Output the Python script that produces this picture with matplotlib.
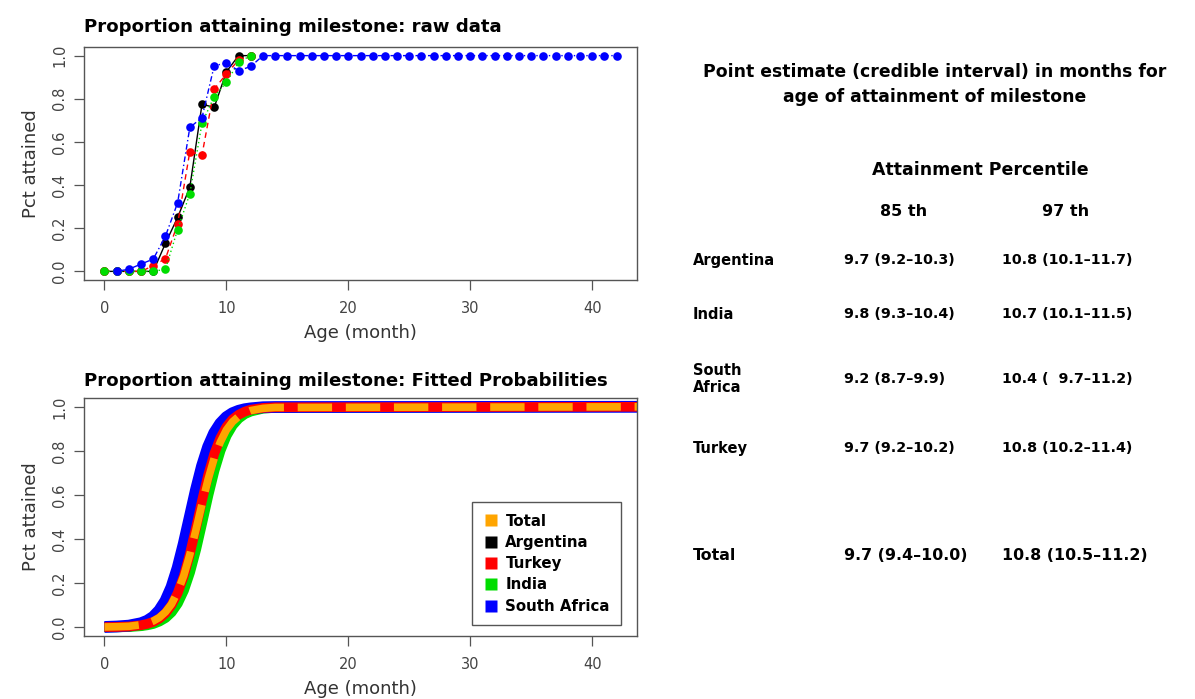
import matplotlib
matplotlib.use("Agg")
import matplotlib.pyplot as plt
from matplotlib.lines import Line2D

plt.rcParams['font.family'] = ['DejaVu Sans']

# ---------------- data ----------------
countries = ["Argentina", "Turkey", "India", "South Africa"]
colors = {"Total": "#FFA500", "Argentina": "#000000", "Turkey": "#FF0000",
          "India": "#00DD00", "South Africa": "#0000FF"}

# raw proportions (top panel)
arg_age = [0, 1, 2, 3, 4, 5, 6, 7, 8, 9, 10, 11, 12]
arg_pct = [0, 0, 0, 0, 0, 0.13, 0.25, 0.39, 0.775, 0.76, 0.925, 1.0, 1.0]
tur_age = [0, 1, 2, 3, 4, 5, 6, 7, 8, 9, 10, 11, 12]
tur_pct = [0, 0, 0, 0, 0.026, 0.059, 0.22, 0.555, 0.54, 0.845, 0.915, 0.98, 1.0]
ind_age = [0, 1, 2, 3, 4, 5, 6, 7, 8, 9, 10, 11, 12]
ind_pct = [0, 0, 0, 0, 0, 0.01, 0.194, 0.36, 0.687, 0.81, 0.876, 0.97, 1.0]
saf_age = list(range(1, 43))
saf_pct = [0, 0.01, 0.034, 0.057, 0.163, 0.318, 0.667, 0.713, 0.953, 0.966,
           0.93, 0.95] + [1.0] * 30

# fitted probabilities (bottom panel)
fit_age = [0, 1, 2, 3, 3.5, 4, 4.5, 5, 5.5, 6, 6.5, 7, 7.5, 8, 8.5, 9, 9.5,
           10, 10.5, 11, 11.5, 12, 13, 14, 44]
fit_total = [0.001, 0.002, 0.004, 0.011, 0.017, 0.028, 0.044, 0.069, 0.105,
             0.160, 0.233, 0.329, 0.441, 0.559, 0.671, 0.767, 0.840, 0.895,
             0.932, 0.956, 0.972, 0.983, 0.993, 0.997, 1.0]
fit_arg = [0.0004, 0.001, 0.003, 0.007, 0.012, 0.020, 0.032, 0.052, 0.083,
           0.130, 0.198, 0.289, 0.401, 0.525, 0.646, 0.750, 0.832, 0.891,
           0.931, 0.957, 0.973, 0.984, 0.994, 0.998, 1.0]
fit_tur = [0.0005, 0.001, 0.003, 0.009, 0.015, 0.024, 0.039, 0.063, 0.100,
           0.154, 0.231, 0.332, 0.450, 0.574, 0.690, 0.786, 0.858, 0.909,
           0.943, 0.964, 0.978, 0.987, 0.995, 0.998, 1.0]
fit_ind = [0.0003, 0.001, 0.002, 0.006, 0.010, 0.016, 0.027, 0.043, 0.069,
           0.109, 0.168, 0.250, 0.354, 0.475, 0.599, 0.711, 0.802, 0.870,
           0.917, 0.948, 0.968, 0.980, 0.993, 0.997, 1.0]
fit_saf = [0.001, 0.003, 0.007, 0.018, 0.029, 0.047, 0.076, 0.119, 0.182,
           0.269, 0.378, 0.500, 0.622, 0.731, 0.818, 0.881, 0.924, 0.953,
           0.971, 0.982, 0.989, 0.993, 0.998, 0.999, 1.0]

# table
table_rows = ["Argentina", "India", "South\nAfrica", "Turkey", "Total"]
p85 = ["9.7 (9.2\u201310.3)", "9.8 (9.3\u201310.4)", "9.2 (8.7\u20139.9)",
       "9.7 (9.2\u201310.2)", "9.7 (9.4\u201310.0)"]
p97 = ["10.8 (10.1\u201311.7)", "10.7 (10.1\u201311.5)", "10.4 (  9.7\u201311.2)",
       "10.8 (10.2\u201311.4)", "10.8 (10.5\u201311.2)"]

# ---------------- figure ----------------
W, H = 1195, 699
fig = plt.figure(figsize=(W / 100, H / 100), dpi=100)


def fx(px):
    return px / W


def fy(py):
    return 1 - py / H


def style_axes(ax):
    ax.set_xlim(-1.68, 43.68)
    ax.set_ylim(-0.04, 1.04)
    ax.set_xticks([0, 10, 20, 30, 40])
    ax.set_yticks([0, 0.2, 0.4, 0.6, 0.8, 1.0])
    ax.set_yticklabels(["0.0", "0.2", "0.4", "0.6", "0.8", "1.0"],
                       rotation=90, va="center")
    for s in ax.spines.values():
        s.set_color("#555555")
        s.set_linewidth(1.0)
    ax.tick_params(direction="out", length=7, width=0.9, color="#555555",
                   labelsize=10.5, labelcolor="#444444", pad=5)
    ax.tick_params(axis="x", pad=8)
    ax.set_xlabel("Age (month)", fontsize=13, color="#333333", labelpad=6)
    ax.set_ylabel("Pct attained", fontsize=13, color="#333333", labelpad=9)


# top panel
ax1 = fig.add_axes([fx(84), fy(280), fx(637 - 84), (280 - 47) / H])
style_axes(ax1)
ms = 6.2
ax1.plot(arg_age, arg_pct, color=colors["Argentina"], lw=1.0, ls="-",
         marker="o", ms=ms, mec="none")
ax1.plot(tur_age, tur_pct, color=colors["Turkey"], lw=1.0, ls=(0, (4, 3)),
         marker="o", ms=ms, mec="none")
ax1.plot(ind_age, ind_pct, color=colors["India"], lw=1.0, ls=(0, (1, 2)),
         marker="o", ms=ms, mec="none")
ax1.plot(saf_age, saf_pct, color=colors["South Africa"], lw=1.0,
         ls=(0, (1, 2, 4, 2)), marker="o", ms=ms, mec="none")
ax1.set_title("Proportion attaining milestone: raw data", loc="left",
              fontsize=13.1, fontweight="bold", pad=11, x=0.0)

# bottom panel
ax2 = fig.add_axes([fx(84), fy(636), fx(637 - 84), (636 - 398) / H])
style_axes(ax2)
ax2.plot(fit_age, fit_arg, color=colors["Argentina"], lw=7, solid_capstyle="butt")
ax2.plot(fit_age, fit_ind, color=colors["India"], lw=7.5, solid_capstyle="butt")
ax2.plot(fit_age, fit_saf, color=colors["South Africa"], lw=8.5, solid_capstyle="butt")
ax2.plot(fit_age, fit_tur, color=colors["Turkey"], lw=7, solid_capstyle="butt")
ax2.plot(fit_age, fit_total, color=colors["Total"], lw=5.5, ls=(0, (4.5, 1.8)),
         dash_capstyle="butt")
ax2.set_title("Proportion attaining milestone: Fitted Probabilities", loc="left",
              fontsize=13.1, fontweight="bold", pad=9, x=0.0)

handles = [Line2D([], [], ls="none", marker="s", ms=8, mec="none",
                  color=colors[k]) for k in
           ["Total", "Argentina", "Turkey", "India", "South Africa"]]
leg = ax2.legend(handles, ["Total", "Argentina", "Turkey", "India", "South Africa"],
                 loc="lower right", bbox_to_anchor=((621 - 84) / 553, (636 - 625) / 238),
                 fancybox=False, framealpha=1, edgecolor="#555555",
                 prop={"size": 10.8, "weight": "bold"}, handletextpad=0.45,
                 handlelength=1.0, labelspacing=0.42, borderpad=0.75,
                 borderaxespad=0)
leg.get_frame().set_linewidth(1.0)

# right-hand text
fig.text(fx(935), fy(72), "Point estimate (credible interval) in months for",
         ha="center", va="center", fontsize=12.4, fontweight="bold")
fig.text(fx(935), fy(97), "age of attainment of milestone",
         ha="center", va="center", fontsize=12.4, fontweight="bold")
fig.text(fx(980), fy(170), "Attainment Percentile", ha="center", va="center",
         fontsize=12.5, fontweight="bold")
fig.text(fx(904), fy(211), "85 th", ha="center", va="center",
         fontsize=11.5, fontweight="bold")
fig.text(fx(1066), fy(211), "97 th", ha="center", va="center",
         fontsize=11.5, fontweight="bold")

row_y = [260, 314, 379, 448, 555]
for i, (lab, a, b) in enumerate(zip(table_rows, p85, p97)):
    fs = 11.4 if lab == "Total" else 10.3
    lfs = 11.4 if lab == "Total" else 10.5
    fig.text(fx(693), fy(row_y[i]), lab, ha="left", va="center", fontsize=lfs,
             fontweight="bold", linespacing=1.2)
    fig.text(fx(844), fy(row_y[i]), a, ha="left", va="center", fontsize=fs,
             fontweight="bold")
    fig.text(fx(1002), fy(row_y[i]), b, ha="left", va="center", fontsize=fs,
             fontweight="bold")

fig.savefig("out.png", dpi=100)
